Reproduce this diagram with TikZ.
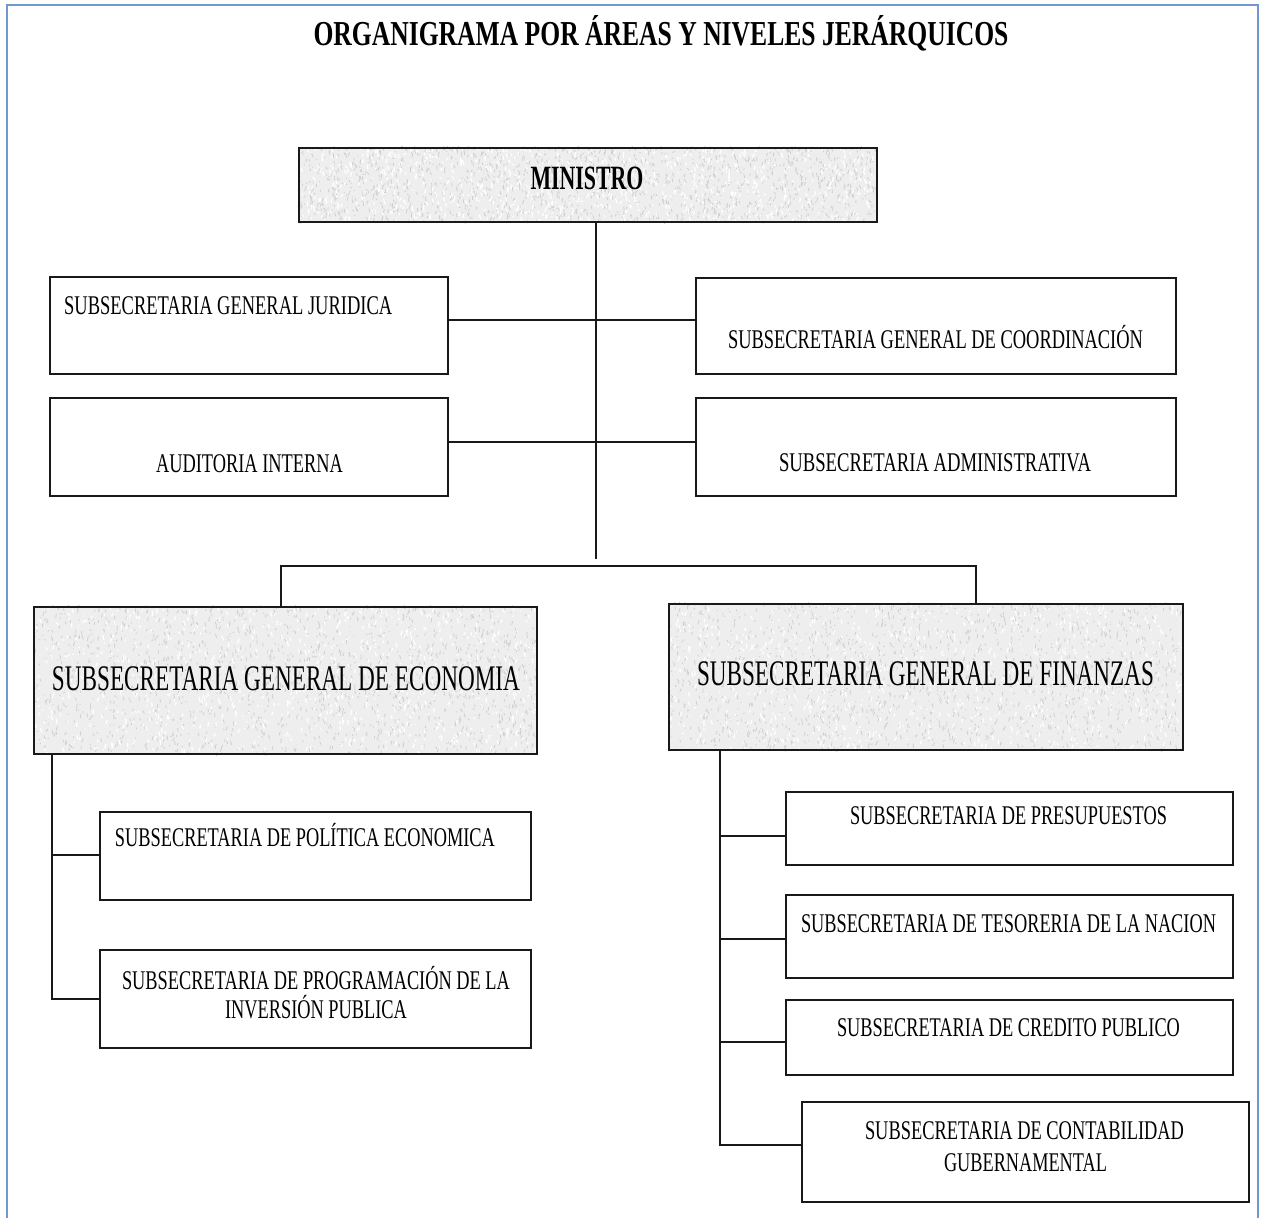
\documentclass[tikz,border=0pt]{standalone}
\usepackage{fontspec}
\setmainfont{Liberation Serif}
\usetikzlibrary{calc}
\definecolor{frameblue}{RGB}{112,153,208}
% text set at a given size and squeezed to a given width (height kept)
\newcommand{\fitw}[3]{\resizebox{#1pt}{\height}{\fontsize{#2}{#2}\selectfont #3}}
% grainy paper fill inside a node: node name, width, height
\newcommand{\grain}[3]{%
  \begin{scope}
    \clip (#1.north west) rectangle (#1.south east);
    \fill[gray!13] (#1.north west) rectangle (#1.south east);
    \foreach \k in {1,...,1600}{
      \draw[gray!38, line width=0.8pt] ($(#1.north west)+({rnd*#2},{rnd*#3})$) -- ++({(rnd-0.5)*3},{(rnd-0.5)*9});
    }
    \foreach \k in {1,...,900}{
      \draw[white, line width=1.2pt] ($(#1.north west)+({rnd*#2},{rnd*#3})$) -- ++({(rnd-0.5)*4},{(rnd-0.5)*10});
    }
  \end{scope}}
\pgfdeclarelayer{sheet}
\pgfdeclarelayer{paper}
\pgfsetlayers{sheet,paper,main}
\begin{document}
\begin{tikzpicture}[x=1pt,y=-1pt,
  box/.style={rectangle, draw=black!90, line width=2.3pt, inner sep=0pt},
  link/.style={draw=black!90, line width=2.1pt},
  txt/.style={inner sep=0pt, anchor=base},
  txtl/.style={inner sep=0pt, anchor=base west}]
\pgfmathsetseed{7}
\useasboundingbox (0,0) rectangle (1267,1218);
\begin{pgfonlayer}{sheet}
  \fill[white] (0,0) rectangle (1267,1218);
  \draw[frameblue, line width=2pt] (7,1222) -- (7,5) -- (1258,5) -- (1258,1222);
\end{pgfonlayer}

% boxes
\node[box, minimum width=578, minimum height=74] (min) at (588,185) {};
\node[box, minimum width=398, minimum height=97] (jur) at (249,325.5) {};
\node[box, minimum width=480, minimum height=96] (coo) at (936,326) {};
\node[box, minimum width=398, minimum height=98] (aud) at (249,447) {};
\node[box, minimum width=480, minimum height=98] (adm) at (936,447) {};
\node[box, minimum width=503, minimum height=147] (eco) at (285.5,680.5) {};
\node[box, minimum width=514, minimum height=146] (fin) at (926,677) {};
\node[box, minimum width=431, minimum height=88] (pol) at (315.5,856) {};
\node[box, minimum width=431, minimum height=98] (pro) at (315.5,999) {};
\node[box, minimum width=447, minimum height=73] (pre) at (1009.5,828.5) {};
\node[box, minimum width=447, minimum height=83] (tes) at (1009.5,936.5) {};
\node[box, minimum width=447, minimum height=75] (cre) at (1009.5,1037.5) {};
\node[box, minimum width=447, minimum height=100] (con) at (1025.5,1152) {};

\begin{pgfonlayer}{paper}
  \grain{min}{578}{74}
  \grain{eco}{503}{147}
  \grain{fin}{514}{146}
\end{pgfonlayer}

% connectors
\coordinate (trunk) at (596,559);
\coordinate (r1) at (596,320);
\coordinate (r2) at (596,442);
\coordinate (busL) at (281,566);
\coordinate (busR) at (976,566);
\coordinate (eb1) at (52,855);
\coordinate (eb2) at (52,999);
\coordinate (fb1) at (720,836);
\coordinate (fb2) at (720,939);
\coordinate (fb3) at (720,1042);
\coordinate (fb4) at (720,1145);
\draw[link] (min.south -| trunk) -- (trunk);
\draw[link] (jur.east |- r1) -- (coo.west |- r1);
\draw[link] (aud.east |- r2) -- (adm.west |- r2);
\draw[link] (eco.north -| busL) -- (busL) -- (busR) -- (fin.north -| busR);
\draw[link] (eco.south -| eb2) -- (eb2) -- (pro.west |- eb2);
\draw[link] (eb1) -- (pol.west |- eb1);
\draw[link] (fin.south -| fb4) -- (fb4) -- (con.west |- fb4);
\draw[link] (fb1) -- (pre.west |- fb1);
\draw[link] (fb2) -- (tes.west |- fb2);
\draw[link] (fb3) -- (cre.west |- fb3);

% texts
\node[txt] (title) at (661,45) {\fitw{695}{35}{\bfseries ORGANIGRAMA POR ÁREAS Y NIVELES JERÁRQUICOS}};
\node[txt] (minT) at (587,189) {\fitw{113}{34}{\bfseries MINISTRO}};
\node[txtl] (jurT) at (64,314) {\fitw{328}{27}{SUBSECRETARIA GENERAL JURIDICA}};
\node[txt] (cooT) at (935.5,348) {\fitw{415}{27}{SUBSECRETARIA GENERAL DE COORDINACIÓN}};
\node[txt] (audT) at (249.5,472) {\fitw{187}{27}{AUDITORIA INTERNA}};
\node[txt] (admT) at (935,471) {\fitw{312}{27}{SUBSECRETARIA ADMINISTRATIVA}};
\node[txt] (ecoT) at (286,690) {\fitw{468}{36}{SUBSECRETARIA GENERAL DE ECONOMIA}};
\node[txt] (finT) at (925.5,685) {\fitw{457}{36}{SUBSECRETARIA GENERAL DE FINANZAS}};
\node[txt] (polT) at (305,846) {\fitw{380}{27}{SUBSECRETARIA DE POLÍTICA ECONOMICA}};
\node[txt] (proT1) at (316,989) {\fitw{388}{27}{SUBSECRETARIA DE PROGRAMACIÓN DE LA}};
\node[txt] (proT2) at (316,1018) {\fitw{182}{27}{INVERSIÓN PUBLICA}};
\node[txt] (preT) at (1008.5,824) {\fitw{317}{27}{SUBSECRETARIA DE PRESUPUESTOS}};
\node[txt] (tesT) at (1008.5,932) {\fitw{415}{27}{SUBSECRETARIA DE TESORERIA DE LA NACION}};
\node[txt] (creT) at (1008.5,1036) {\fitw{343}{27}{SUBSECRETARIA DE CREDITO PUBLICO}};
\node[txt] (conT1) at (1024.5,1139) {\fitw{319}{27}{SUBSECRETARIA DE CONTABILIDAD}};
\node[txt] (conT2) at (1025.5,1171) {\fitw{163}{27}{GUBERNAMENTAL}};
\end{tikzpicture}
\end{document}
